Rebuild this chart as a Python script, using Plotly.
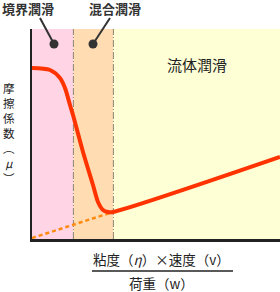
import plotly.graph_objects as go

# Data (arbitrary units)
friction_x = [0.0, 0.9, 1.4, 1.65, 1.9, 2.05, 2.55, 3.05, 3.3, 3.55, 3.8, 4.05, 12.4]
friction_y = [8.55, 8.45, 8.05, 7.55, 6.7, 6.2, 4.35, 2.7, 1.85, 1.45, 1.35, 1.35, 4.1]
ext_x = [0.0, 4.05]
ext_y = [0.05, 1.35]
region_edges = [0.0, 2.07, 4.07, 12.4]
region_names = ["境界潤滑", "混合潤滑", "流体潤滑"]
region_colors = ["#ffd5e6", "#ffdcb2", "#ffffd6"]
y_title = "摩<br>擦<br>係<br>数<br>︵<br><i>μ</i><br>︶"
x_title_top = "粘度（<i>η</i>）×速度（v）"
x_title_bottom = "荷重（w）"

X_MAX, Y_MAX = 12.4, 10.5
W, H = 280, 292
ML, MR, MT, MB = 32, 0, 29, 53
font = "Noto Sans CJK JP"

fig = go.Figure()

fig.add_trace(go.Scatter(x=ext_x, y=ext_y, mode="lines",
                         line=dict(color="#ff8a10", width=2.5, dash="4px,3px"),
                         hoverinfo="skip", cliponaxis=False))
fig.add_trace(go.Scatter(x=friction_x, y=friction_y, mode="lines",
                         line=dict(color="#ff3300", width=4, shape="spline", smoothing=0.8),
                         hoverinfo="skip", cliponaxis=False))

shapes = []
for i in range(3):
    shapes.append(dict(type="rect", xref="x", yref="paper", x0=region_edges[i], x1=region_edges[i + 1],
                       y0=0, y1=1, fillcolor=region_colors[i], line=dict(width=0), layer="below"))
for e in region_edges[1:3]:
    shapes.append(dict(type="line", xref="x", yref="paper", x0=e, x1=e, y0=0, y1=1,
                       line=dict(color="#8c8474", width=1, dash="7px,2px,1px,2px"), layer="below"))

def px_to_paper(px, py):
    return (px - ML) / (W - ML - MR), (H - MB - py) / (H - MT - MB)

# leader lines and dots
for (sx, sy), (dx, dy) in [((40, 18), (54, 44)), ((110, 18), (93, 44))]:
    x0, y0 = px_to_paper(sx, sy)
    x1, y1 = px_to_paper(dx, dy)
    shapes.append(dict(type="line", xref="paper", yref="paper", x0=x0, y0=y0, x1=x1, y1=y1,
                       line=dict(color="#333333", width=2)))
    r = 4.5
    cx0, cy0 = px_to_paper(dx - r, dy + r)
    cx1, cy1 = px_to_paper(dx + r, dy - r)
    shapes.append(dict(type="circle", xref="paper", yref="paper", x0=cx0, y0=cy0, x1=cx1, y1=cy1,
                       fillcolor="#333333", line=dict(width=0)))

# fraction bar of x label
fx0, fy = px_to_paper(92, 271)
fx1, _ = px_to_paper(233, 271)
shapes.append(dict(type="line", xref="paper", yref="paper", x0=fx0, y0=fy, x1=fx1, y1=fy,
                   line=dict(color="#222222", width=1.5)))

annotations = []
def label(text, px, py, size, color="#222222", xanchor="center"):
    x, y = px_to_paper(px, py)
    annotations.append(dict(text=text, x=x, y=y, xref="paper", yref="paper", showarrow=False,
                            xanchor=xanchor, yanchor="middle", borderpad=0,
                            font=dict(family=font, size=size, color=color)))

label("<b>" + region_names[0] + "</b>", 28, 9, 13, "#333333")
label("<b>" + region_names[1] + "</b>", 115, 9, 13, "#333333")
label(region_names[2], 197, 65, 15, "#222222")

label(y_title, 9, 133, 11.5)

label(x_title_top, 161, 259, 13.5)
label(x_title_bottom, 161, 283, 13.5)

fig.update_layout(
    width=W, height=H, margin=dict(l=ML, r=MR, t=MT, b=MB),
    paper_bgcolor="white", plot_bgcolor="white", showlegend=False,
    shapes=shapes, annotations=annotations,
    xaxis=dict(range=[0, X_MAX], showgrid=False, zeroline=False, showticklabels=False, ticks="",
               showline=True, linecolor="#222222", linewidth=2.5),
    yaxis=dict(range=[0, Y_MAX], showgrid=False, zeroline=False, showticklabels=False, ticks="",
               showline=True, linecolor="#222222", linewidth=2),
)

fig.write_html("out.html")
